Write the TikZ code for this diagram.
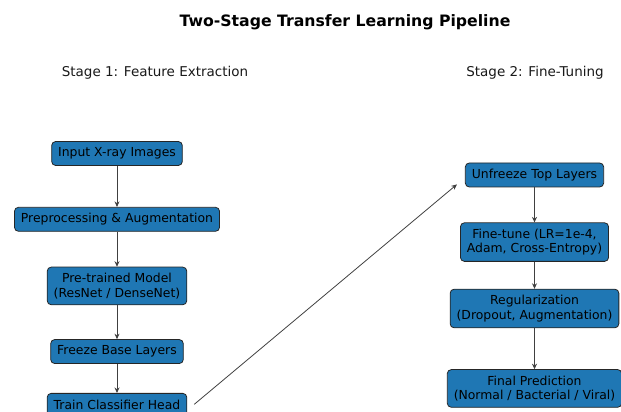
\documentclass[tikz,border=0pt]{standalone}
\usepackage{fontspec}
\setmainfont{DejaVu Sans}
\usepackage{xcolor}
\usepackage{tikz}
\usetikzlibrary{arrows.meta, positioning}

\definecolor{boxblue}{RGB}{31,119,180}

\begin{document}
\begin{tikzpicture}[
    x=1pt, y=1pt,
    block/.style={rectangle, draw=black!85, fill=boxblue, line width=0.8pt, rounded corners=4pt, align=center, inner xsep=6.5pt, inner ysep=6pt, minimum height=24pt, font=\fontsize{12.4}{14.6}\selectfont},
    arrow/.style={-{Stealth[length=5.5pt, width=5pt]}, line width=0.8pt, draw=black!75},
    stagelabel/.style={font=\fontsize{13.5}{16}\selectfont, text=black!90},
]
    \useasboundingbox (0,0) rectangle (621,412);

    \node[font=\bfseries\fontsize{15.7}{18}\selectfont] (title) at (345,390) {Two-Stage Transfer Learning Pipeline};
    \node[stagelabel] (stage1) at (155,339) {Stage 1: Feature Extraction};
    \node[stagelabel] (stage2) at (535,339) {Stage 2: Fine-Tuning};

    % stage 1
    \node[block] (input) at (117,258.5) {Input X-ray Images};
    \node[block, below=41pt of input] (preprocess) {Preprocessing \& Augmentation};
    \node[block, below=35pt of preprocess] (pretrained) {Pre-trained Model\\(ResNet / DenseNet)};
    \node[block, below=34pt of pretrained] (freeze) {Freeze Base Layers};
    \node[block, below=29pt of freeze] (head) {Train Classifier Head};

    % stage 2
    \node[block] (unfreeze) at (534.5,237) {Unfreeze Top Layers};
    \node[block, below=35pt of unfreeze] (finetune) {Fine-tune (LR=1e-4,\\Adam, Cross-Entropy)};
    \node[block, below=27pt of finetune] (regular) {Regularization\\(Dropout, Augmentation)};
    \node[block, below=41pt of regular] (predict) {Final Prediction\\(Normal / Bacterial / Viral)};

    \coordinate (hstart) at ([xshift=7pt, yshift=1pt]head.east);
    \coordinate (uend) at ([xshift=-8pt, yshift=3pt]unfreeze.south west);

    \draw[arrow] (input) -- (preprocess);
    \draw[arrow] (preprocess) -- (pretrained);
    \draw[arrow] (pretrained) -- (freeze);
    \draw[arrow] (freeze) -- (head);
    \draw[arrow] (hstart) -- (uend);
    \draw[arrow] (unfreeze) -- (finetune);
    \draw[arrow] (finetune) -- (regular);
    \draw[arrow] (regular) -- (predict);
\end{tikzpicture}
\end{document}
